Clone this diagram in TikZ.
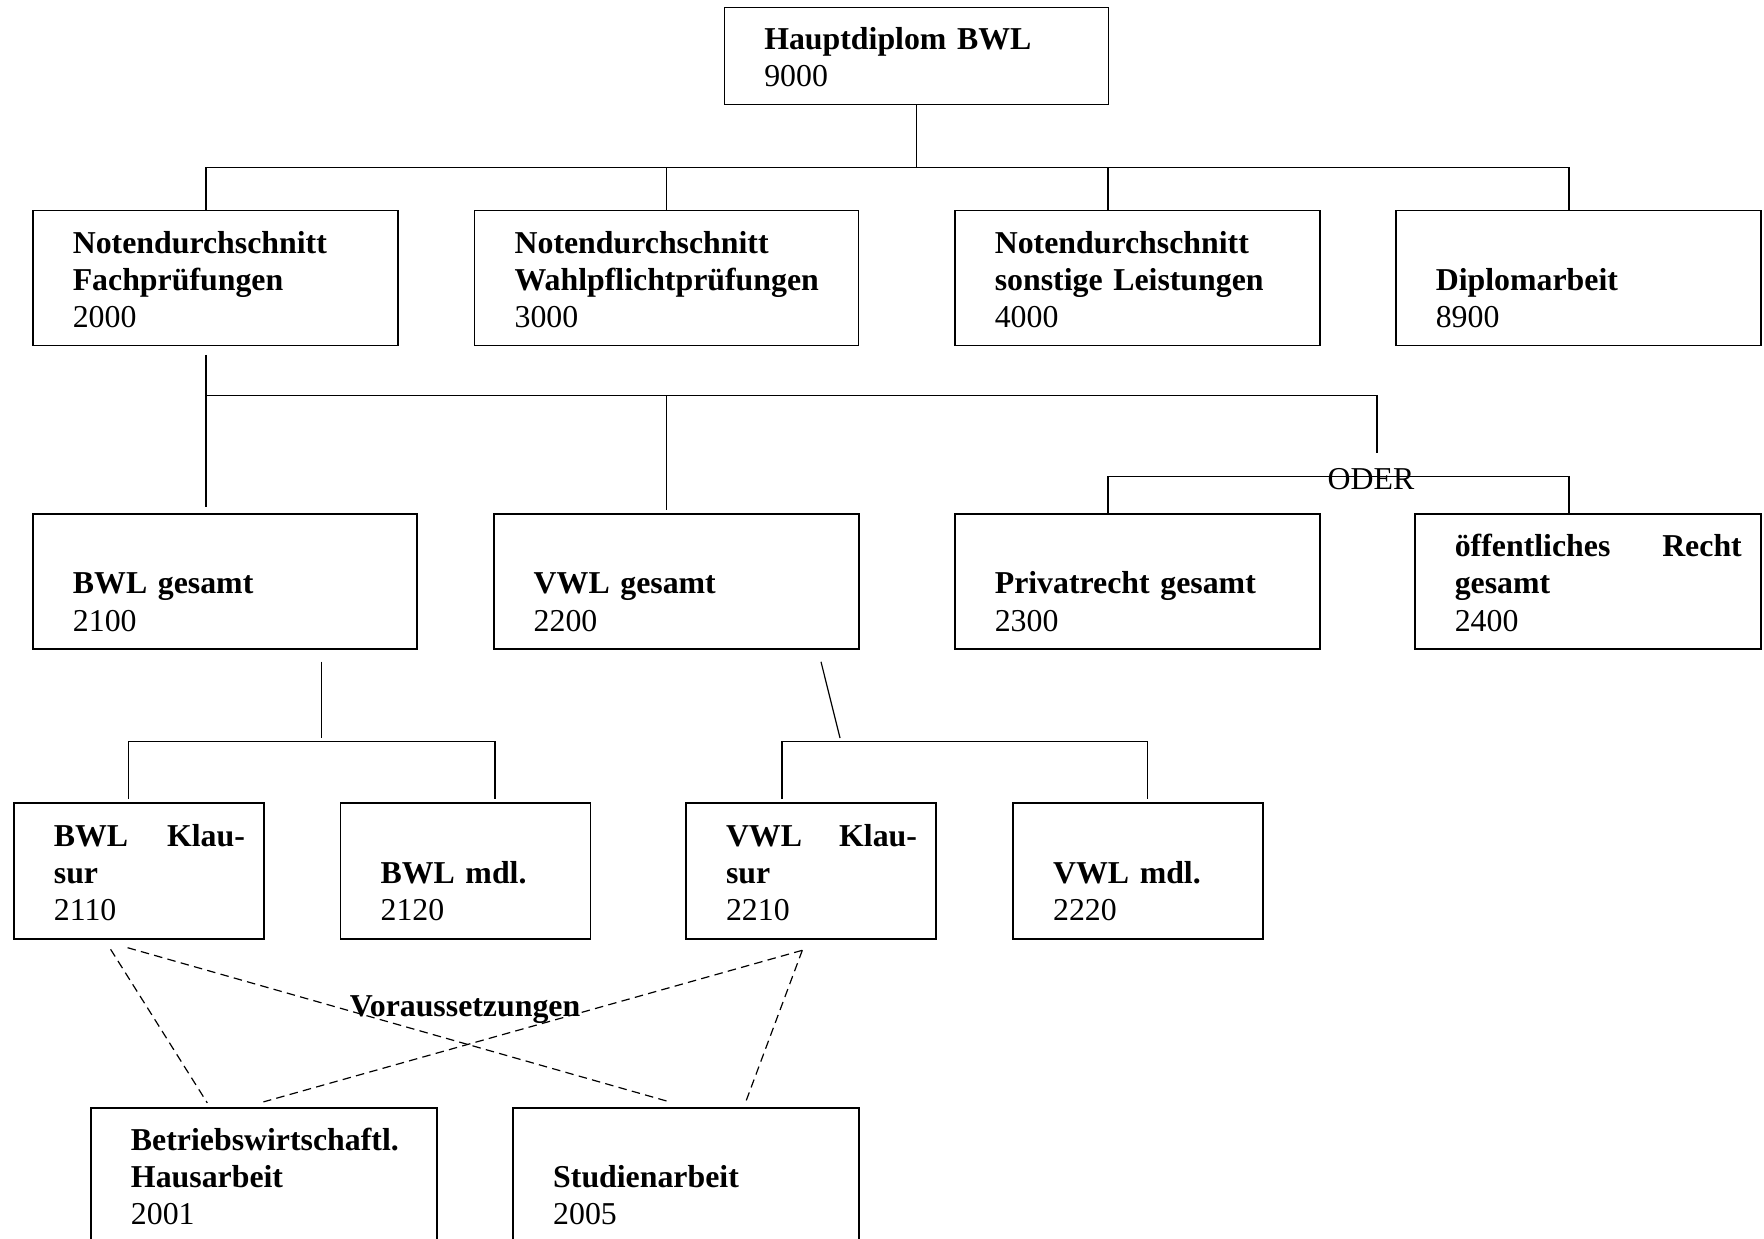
\documentclass[tikz,border=0pt]{standalone}
\usepackage{fontspec}
\setmainfont{Liberation Serif}
\usetikzlibrary{positioning,calc}
\newlength{\pxl}
\setlength{\pxl}{0.377pt}
\tikzset{
  every node/.style={font=\fontsize{12}{14}\selectfont},
  bx/.style 2 args={draw,line width=0.6pt,inner sep=0pt,
    minimum width={#1*\pxl},minimum height={#2*\pxl},
    text width={(#1-38)*\pxl},align=left,
    execute at begin node={\leftskip=21\pxl\relax\rule{0pt}{13.6pt}},
    execute at end node={\strut}},
  bxtop/.style={bx={384}{97}},
  bxwide/.style={bx={384}{135}},
  bxmid/.style={bx={365}{135}},
  bxnar/.style={bx={346}{135}},
  bxsm/.style={bx={250}{136}},
  conn/.style={line width=0.45pt},
  pre/.style={line width=0.45pt,dash pattern=on 3.2pt off 2pt},
  lbl/.style={inner sep=0pt},
  lblb/.style={inner sep=0pt,font=\fontsize{12}{14}\selectfont\bfseries},
}
\begin{document}
\begin{tikzpicture}[x={(0.377pt,0)},y={(0,-0.377pt)}]
  \useasboundingbox (0,0) rectangle (1764,1238);
  \clip (0,0) rectangle (1764,1238);
  \fill[white] (0,0) rectangle (1764,1238);
  \node[bxtop] (hd) at (916.3,55.8) {{\bfseries Hauptdiplom BWL}\\9000};
  \node[bxmid] (fach) at (215.3,278) {{\bfseries Notendurchschnitt\\Fachprüfungen}\\2000};
  \node[bxwide] (wahl) at (666.6,278) {{\bfseries Notendurchschnitt\\Wahlpflichtprüfungen}\\3000};
  \node[bxmid] (sonst) at (1137.3,278) {{\bfseries Notendurchschnitt\\sonstige Leistungen}\\4000};
  \node[bxmid] (dipl) at (1578.3,278) {\\{\bfseries Diplomarbeit}\\8900};
  \node[bxwide] (bwl) at (225,581.5) {\\{\bfseries BWL gesamt}\\2100};
  \node[bxmid] (vwl) at (676.2,581.5) {\\{\bfseries VWL gesamt}\\2200};
  \node[bxmid] (priv) at (1137.3,581.5) {\\{\bfseries Privatrecht gesamt}\\2300};
  \node[bxnar] (oeff) at (1587.8,581.5) {{\bfseries öffentliches\hfill Recht\\gesamt}\\2400};
  \node[bxsm] (bwlk) at (138.9,871.2) {{\bfseries BWL\hfill Klau-\\sur}\\2110};
  \node[bxsm] (bwlm) at (465.6,871.2) {\\{\bfseries BWL mdl.}\\2120};
  \node[bxsm] (vwlk) at (811,871.2) {{\bfseries VWL\hfill Klau-\\sur}\\2210};
  \node[bxsm] (vwlm) at (1138.1,871.2) {\\{\bfseries VWL mdl.}\\2220};
  \node[bxnar] (haus) at (264,1175.2) {{\bfseries Betriebswirtschaftl.\\Hausarbeit}\\2001};
  \node[bxnar] (stud) at (686.2,1175.2) {\\{\bfseries Studienarbeit}\\2005};

  \coordinate (t1w) at (206,167.3);
  \coordinate (t1e) at (1569,167.3);
  \coordinate (t1c) at (1108,167.3);
  \draw[conn] (hd.south) -- (hd.south |- t1w);
  \draw[conn] (t1w) -- (t1e);
  \draw[conn] (t1w) -- (t1w |- fach.north);
  \draw[conn] (wahl.north |- t1w) -- (wahl.north);
  \draw[conn] (t1c) -- (t1c |- sonst.north);
  \draw[conn] (t1e) -- (t1e |- dipl.north);

  \coordinate (t2w) at (206,395.3);
  \coordinate (t2e) at (1377,395.3);
  \coordinate (t2d) at (1377,453);
  \draw[conn,shorten <=3.2pt] (fach.south -| t2w) -- (t2w);
  \draw[conn] (t2w) -- (t2e) -- (t2d);
  \draw[conn,shorten >=2.4pt] (t2w) -- (t2w |- bwl.north);
  \draw[conn,shorten >=1.2pt] (wahl.south |- t2w) -- (wahl.south |- vwl.north);
  \coordinate (t3w) at (1108,476.7);
  \coordinate (t3e) at (1569,476.7);
  \draw[conn] (priv.north -| t3w) |- (t3e) -- (oeff.north -| t3e);
  \node[lbl] (oder) at (1371,479) {ODER};

  \coordinate (t4t) at (321.7,738);
  \coordinate (t4w) at (128.5,741.7);
  \coordinate (t4e) at (495,741.7);
  \draw[conn,shorten <=4.5pt] (bwl.south -| t4t) -- (t4t);
  \draw[conn,shorten <=1.2pt,shorten >=1.2pt] (bwlk.north -| t4w) |- (t4e) -- (bwlm.north -| t4e);
  \coordinate (t5t) at (840,738);
  \coordinate (t5w) at (782,741.7);
  \coordinate (t5e) at (1147.6,741.7);
  \draw[conn] ([shift={(144.8,12)}]vwl.south) -- (t5t);
  \draw[conn,shorten <=1.2pt,shorten >=1.2pt] (vwlk.north -| t5w) |- (t5e) -- (vwlm.north -| t5e);

  \draw[pre] ([shift={(-28.3,9.3)}]bwlk.south) -- ([shift={(-56.7,-4)}]haus.north);
  \draw[pre] ([shift={(-11.3,7.7)}]bwlk.south) -- ([shift={(-18.5,-5.6)}]stud.north);
  \draw[pre] ([shift={(-8.7,10.3)}]vwlk.south) -- ([shift={(-0.6,-5)}]haus.north);
  \draw[pre] ([shift={(-8.7,10.3)}]vwlk.south) -- ([shift={(60,-6.3)}]stud.north);
  \node[lblb] (vor) at (465,1010) {Voraussetzungen};
\end{tikzpicture}
\end{document}
